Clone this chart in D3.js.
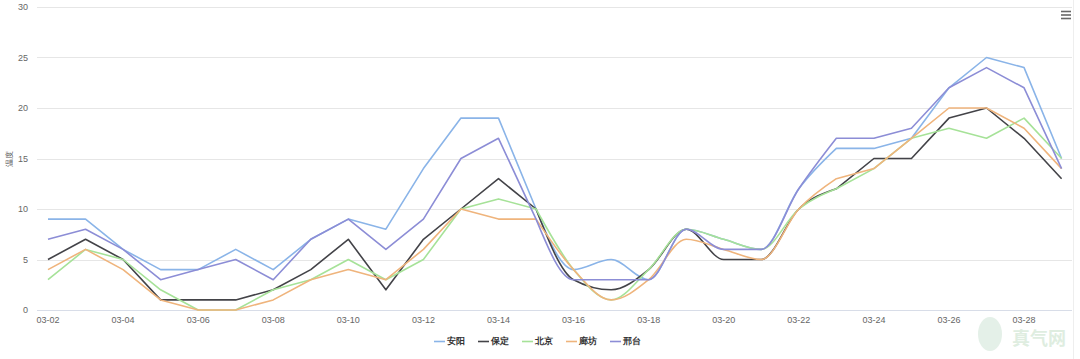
<!DOCTYPE html>
<html>
<head>
<meta charset="utf-8">
<script src="https://cdn.jsdelivr.net/npm/d3@7/dist/d3.min.js"></script>
<style>
  html, body { margin: 0; padding: 0; background: #fff; }
  #chart svg { display: block; font-family: "Liberation Sans", Arial, sans-serif; }
  .grid line { stroke: #e6e6e6; stroke-width: 1; }
  .tick-label { fill: #666; font-size: 9px; }
  .legend-label { fill: #333; font-size: 9px; font-weight: bold; }
</style>
</head>
<body>
<div id="chart"></div>
<script>
var dates = ["03-02","03-03","03-04","03-05","03-06","03-07","03-08","03-09","03-10","03-11",
  "03-12","03-13","03-14","03-15","03-16","03-17","03-18","03-19","03-20","03-21",
  "03-22","03-23","03-24","03-25","03-26","03-27","03-28","03-29"];

var anyang   = [9,9,6,4,4,6,4,7,9,8,14,19,19,10,4,5,3,8,7,6,12,16,16,17,22,25,24,15];
var baoding  = [5,7,5,1,1,1,2,4,7,2,7,10,13,10,3,2,4,8,5,5,10,12,15,15,19,20,17,13];
var beijing  = [3,6,5,2,0,0,2,3,5,3,5,10,11,10,4,1,4,8,7,6,10,12,14,17,18,17,19,15];
var langfang = [4,6,4,1,0,0,1,3,4,3,6,10,9,9,4,1,3,7,6,5,10,13,14,17,20,20,18,14];
var xingtai  = [7,8,6,3,4,5,3,7,9,6,9,15,17,9,3,3,3,8,6,6,12,17,17,18,22,24,22,14];

var seriesNames = ["安阳","保定","北京","廊坊","邢台"];
var seriesColors = ["#8ab4e8","#434348","#a6e298","#efb47c","#8c8dd6"];
var yTicks = [0,5,10,15,20,25,30];
var xTickDates = dates.filter(function(d, i){ return i % 2 === 0; });

var width = 1080, height = 359;
var plot = { left: 37, right: 1072, top: 7, bottom: 310 };
// the source chart smooths only the middle stretch of the lines
var smoothFrom = 13, smoothTo = 21;

var series = [anyang, baoding, beijing, langfang, xingtai].map(function(v, i){
  return { name: seriesNames[i], color: seriesColors[i], values: v };
});

var svg = d3.select("#chart").append("svg")
  .attr("width", width)
  .attr("height", height);

var x = d3.scalePoint()
  .domain(dates)
  .range([48, 1061.6]);

var y = d3.scaleLinear()
  .domain([0, 30])
  .range([plot.bottom, plot.top]);

// gridlines
var grid = svg.append("g").attr("class", "grid");
grid.selectAll("line")
  .data(yTicks.filter(function(t){ return t > 0; }))
  .enter()
  .append("line")
  .attr("x1", plot.left)
  .attr("x2", plot.right)
  .attr("y1", function(d){ return Math.round(y(d)) + 0.5; })
  .attr("y2", function(d){ return Math.round(y(d)) + 0.5; });

// x axis line
svg.append("line")
  .attr("x1", plot.left)
  .attr("x2", plot.right)
  .attr("y1", Math.round(y(0)) + 0.5)
  .attr("y2", Math.round(y(0)) + 0.5)
  .attr("stroke", "#d8dde8");

// right border line of picture
svg.append("line")
  .attr("x1", 1073.5).attr("x2", 1073.5)
  .attr("y1", 0).attr("y2", height)
  .attr("stroke", "#eeeeee");

// y tick labels
svg.append("g").selectAll("text")
  .data(yTicks)
  .enter()
  .append("text")
  .attr("class", "tick-label")
  .attr("x", 28)
  .attr("y", function(d){ return y(d); })
  .attr("dy", "0.35em")
  .attr("text-anchor", "end")
  .text(function(d){ return d; });

// x tick labels
svg.append("g").selectAll("text")
  .data(xTickDates)
  .enter()
  .append("text")
  .attr("class", "tick-label")
  .attr("x", function(d){ return x(d); })
  .attr("y", 323)
  .attr("text-anchor", "middle")
  .text(function(d){ return d; });

// y axis title
svg.append("text")
  .attr("transform", "translate(12,159) rotate(-90)")
  .attr("text-anchor", "middle")
  .attr("fill", "#555")
  .attr("font-size", "8px")
  .text("温度");

// lines: straight segments, smoothed in the middle stretch
var straight = d3.line()
  .x(function(d){ return x(dates[d.i]); })
  .y(function(d){ return y(d.v); });
var smooth = d3.line()
  .x(function(d){ return x(dates[d.i]); })
  .y(function(d){ return y(d.v); })
  .curve(d3.curveMonotoneX);

function pathFor(values){
  var pts = values.map(function(v, i){ return { i: i, v: v }; });
  var a = straight(pts.slice(0, smoothFrom + 1));
  var b = smooth(pts.slice(smoothFrom, smoothTo + 1));
  var c = straight(pts.slice(smoothTo));
  return a + b.replace(/^M[^A-Za-z]*/, "") + c.replace(/^M[^A-Za-z]*/, "");
}

svg.append("g").selectAll("path")
  .data(series)
  .enter()
  .append("path")
  .attr("d", function(d){ return pathFor(d.values); })
  .attr("fill", "none")
  .attr("stroke", function(d){ return d.color; })
  .attr("stroke-width", 1.6)
  .attr("stroke-linejoin", "round");

// legend
var legendX = [434, 478, 522, 566, 610];
var legend = svg.append("g").selectAll("g")
  .data(series)
  .enter()
  .append("g")
  .attr("transform", function(d, i){ return "translate(" + legendX[i] + ",341)"; });

legend.append("line")
  .attr("x1", 0).attr("x2", 11)
  .attr("y1", 0.5).attr("y2", 0.5)
  .attr("stroke", function(d){ return d.color; })
  .attr("stroke-width", 1.6);

legend.append("text")
  .attr("class", "legend-label")
  .attr("x", 13)
  .attr("y", 0)
  .attr("dy", "0.35em")
  .text(function(d){ return d.name; });

// export menu icon
svg.append("g").selectAll("line")
  .data([11.5, 15, 18.5])
  .enter()
  .append("line")
  .attr("x1", 1061).attr("x2", 1071)
  .attr("y1", function(d){ return d; })
  .attr("y2", function(d){ return d; })
  .attr("stroke", "#666")
  .attr("stroke-width", 1.6);

// faint watermark
var wm = svg.append("g").attr("opacity", 0.55);
wm.append("ellipse")
  .attr("cx", 990).attr("cy", 334)
  .attr("rx", 12).attr("ry", 17)
  .attr("fill", "#cfe5d6");
wm.append("text")
  .attr("x", 1039).attr("y", 345)
  .attr("text-anchor", "middle")
  .attr("font-size", "18px")
  .attr("font-weight", "bold")
  .attr("font-family", "Noto Sans CJK SC")
  .attr("fill", "#c5dfc8")
  .text("真气网");
</script>
</body>
</html>
